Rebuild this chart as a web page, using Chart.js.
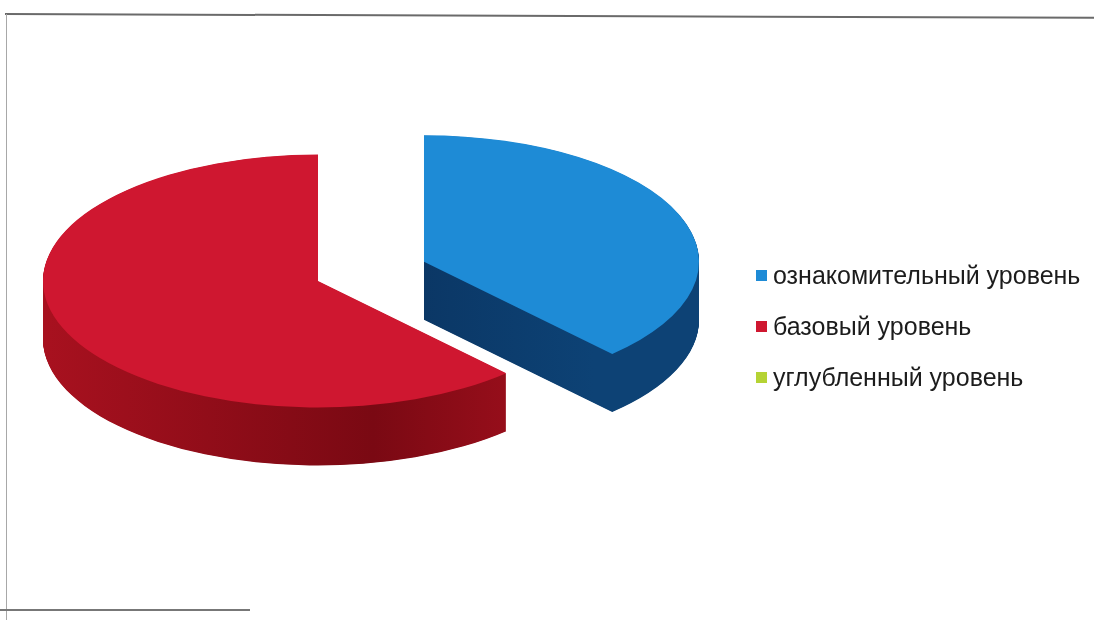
<!DOCTYPE html>
<html>
<head>
<meta charset="utf-8">
<script src="https://cdn.jsdelivr.net/npm/chart.js@4/dist/chart.umd.min.js"></script>
<style>
  body { margin: 0; background: #fff; width: 1094px; height: 620px; overflow: hidden; position: relative;
         font-family: "Liberation Sans", Arial, sans-serif; }
  #topline { position: absolute; left: 5px; top: 13px; width: 1100px; height: 2px; background: #6a6a6a;
             transform: rotate(0.2deg); transform-origin: 0 0; }
  #leftline { position: absolute; left: 6px; top: 14px; width: 1px; height: 606px; background: #a8a8a8; }
  #bottomline { position: absolute; left: 0; top: 609px; width: 250px; height: 2px; background: #777; }
  #wrap { position: absolute; left: 0; top: 0; width: 1094px; height: 620px; }
  #legend { position: absolute; left: 756px; top: 250px; }
  .item { display: flex; align-items: center; height: 51px; font-size: 25px; color: #1c1c1c; white-space: nowrap; }
  .box { width: 11px; height: 11px; margin-right: 6px; }
</style>
</head>
<body>
<div id="topline"></div>
<div id="leftline"></div>
<div id="bottomline"></div>
<div id="wrap"><canvas id="chart"></canvas></div>
<div id="legend"></div>
<script>
// data
const labels = ["ознакомительный уровень", "базовый уровень", "углубленный уровень"];
const values = [38, 62, 0];
const topColors = ["#1e8bd6", "#cf1730", "#b5d334"];
const sideColors = [["#0d4275", "#0a3461"], ["#a8111f", "#7a0913"], ["#7f9a22", "#5f7318"]];

// geometry of the fake 3d
const CX = 318, CY = 281, R = 275, SQUASH = 0.46, DEPTH = 58;
const explode = [114, 0, 0];

function sideFill(ctx, i, arc) {
  const g = ctx.createLinearGradient(arc.x - R, 0, arc.x + R, 0);
  g.addColorStop(0, sideColors[i][0]);
  g.addColorStop(0.6, sideColors[i][1]);
  g.addColorStop(1, sideColors[i][0]);
  return g;
}

const pie3d = {
  id: 'pie3d',
  beforeDatasetDraw(chart, args) {
    const ctx = chart.ctx;
    const arcs = args.meta.data;
    const shift = (arc, i) => {
      const mid = (arc.startAngle + arc.endAngle) / 2;
      return [Math.cos(mid) * explode[i], Math.sin(mid) * explode[i]];
    };
    ctx.save();
    ctx.translate(arcs[0].x, arcs[0].y);
    ctx.scale(1, SQUASH);
    ctx.translate(-arcs[0].x, -arcs[0].y);

    // side walls first
    arcs.forEach((arc, i) => {
      if (arc.endAngle - arc.startAngle <= 0) return;
      const [dx, dy] = shift(arc, i);
      ctx.fillStyle = sideFill(ctx, i, arc);
      for (let k = DEPTH; k > 0; k -= 0.5) {
        const ox = arc.x + dx, oy = arc.y + dy + k / SQUASH;
        ctx.beginPath();
        ctx.moveTo(ox, oy);
        ctx.arc(ox, oy, arc.outerRadius, arc.startAngle, arc.endAngle);
        ctx.closePath();
        ctx.fill();
      }
    });

    // top faces drawn by chart.js itself
    arcs.forEach((arc, i) => {
      const [dx, dy] = shift(arc, i);
      ctx.save();
      ctx.translate(dx, dy);
      arc.draw(ctx);
      ctx.restore();
    });
    ctx.restore();
    return false;
  }
};

new Chart(document.getElementById("chart"), {
  type: 'pie',
  data: {
    labels: labels,
    datasets: [{
      data: values,
      backgroundColor: topColors,
      borderWidth: 0
    }]
  },
  options: {
    responsive: true,
    maintainAspectRatio: false,
    animation: false,
    events: [],
    radius: R,
    layout: { padding: { left: 0, top: 0, right: 1094 - 2 * CX, bottom: 620 - 2 * CY } },
    plugins: {
      legend: { display: false },
      tooltip: { enabled: false }
    }
  },
  plugins: [pie3d]
});

// legend
const legend = document.getElementById("legend");
labels.forEach((l, i) => {
  const row = document.createElement("div");
  row.className = "item";
  row.innerHTML = '<span class="box" style="background:' + topColors[i] + '"></span>' + l;
  legend.appendChild(row);
});
</script>
</body>
</html>
